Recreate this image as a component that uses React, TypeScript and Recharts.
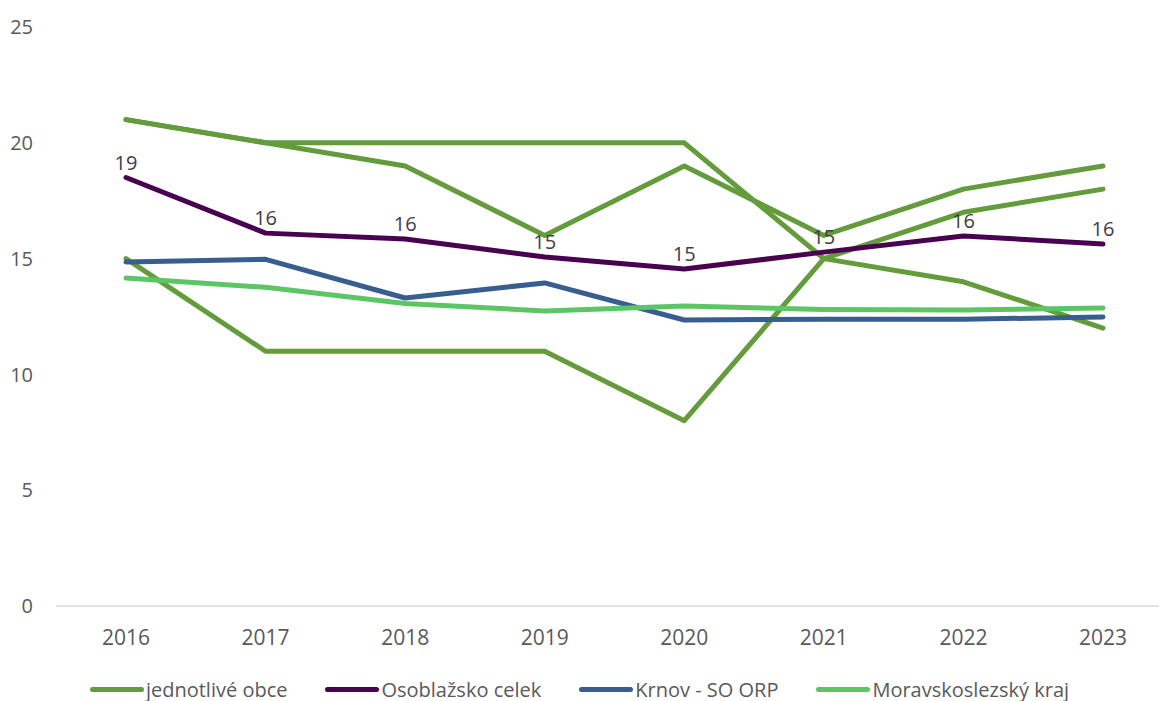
import { LineChart, Line, XAxis, YAxis, Legend, LabelList } from "recharts";

const years = ["2016", "2017", "2018", "2019", "2020", "2021", "2022", "2023"];

// tři obce (jednotlivé obce)
const obecA = [21, 20, 20, 20, 20, 15, 14, 12];
const obecB = [21, 20, 19, 16, 19, 16, 18, 19];
const obecC = [15, 11, 11, 11, 8, 15, 17, 18];

const osoblazsko = [18.5, 16.1, 15.85, 15.07, 14.55, 15.28, 15.98, 15.63];
const krnov = [14.85, 14.97, 13.3, 13.95, 12.35, 12.38, 12.38, 12.48];
const msk = [14.16, 13.76, 13.06, 12.74, 12.95, 12.8, 12.78, 12.87];

const yTicks = [0, 5, 10, 15, 20, 25];

const legendItems = [
  { name: "jednotlivé obce", color: "#649c3c" },
  { name: "Osoblažsko celek", color: "#48024f" },
  { name: "Krnov - SO ORP", color: "#375e8e" },
  { name: "Moravskoslezský kraj", color: "#5cc665" },
];

const data = years.map((year, i) => ({
  year,
  obecA: obecA[i],
  obecB: obecB[i],
  obecC: obecC[i],
  osoblazsko: osoblazsko[i],
  krnov: krnov[i],
  msk: msk[i],
}));

const font = "'Open Sans', sans-serif";

const renderLegend = () => (
  <div
    style={{
      height: 24,
      display: "flex",
      justifyContent: "center",
      alignItems: "center",
      fontFamily: font,
      fontSize: 20,
      color: "#595959",
      gap: 38,
    }}
  >
    {legendItems.map((it) => (
      <div key={it.name} style={{ display: "flex", alignItems: "center" }}>
        <span
          style={{
            display: "inline-block",
            width: 54,
            height: 5,
            borderRadius: 3,
            background: it.color,
            marginRight: 2,
          }}
        />
        <span>{it.name}</span>
      </div>
    ))}
  </div>
);

const lineProps = {
  type: "linear" as const,
  strokeWidth: 5,
  dot: false,
  activeDot: false,
  strokeLinecap: "round" as const,
  strokeLinejoin: "round" as const,
  isAnimationActive: false,
};

export default function App() {
  return (
    <div style={{ position: "absolute", left: 0, top: 0, width: 1159, height: 701, overflow: "hidden", background: "#fff" }}>
      <LineChart width={1159} height={701} data={data} margin={{ top: 27, right: 0, bottom: 0, left: 0 }}>
        <XAxis
          dataKey="year"
          height={71}
          padding={{ left: 70, right: 56 }}
          axisLine={{ stroke: "#d9d9d9", strokeWidth: 1.5 }}
          tickLine={false}
          tickMargin={18}
          tick={{ fill: "#595959", fontSize: 21, fontFamily: font }}
        />
        <YAxis
          width={56}
          domain={[0, 25]}
          ticks={yTicks}
          axisLine={false}
          tickLine={false}
          tickMargin={17}
          tick={{ fill: "#595959", fontSize: 20, fontFamily: font }}
        />
        <Legend verticalAlign="bottom" content={renderLegend} />
        <Line {...lineProps} dataKey="obecA" name="jednotlivé obce" stroke="#649c3c" />
        <Line {...lineProps} dataKey="obecB" name="jednotlivé obce 2" stroke="#649c3c" legendType="none" />
        <Line {...lineProps} dataKey="obecC" name="jednotlivé obce 3" stroke="#649c3c" legendType="none" />
        <Line {...lineProps} dataKey="osoblazsko" name="Osoblažsko celek" stroke="#48024f">
          <LabelList
            dataKey="osoblazsko"
            position="top"
            offset={8}
            formatter={(v: number) => Math.round(v)}
            style={{ fill: "#404040", fontSize: 20, fontFamily: font }}
          />
        </Line>
        <Line {...lineProps} dataKey="krnov" name="Krnov - SO ORP" stroke="#375e8e" />
        <Line {...lineProps} dataKey="msk" name="Moravskoslezský kraj" stroke="#5cc665" />
      </LineChart>
    </div>
  );
}
